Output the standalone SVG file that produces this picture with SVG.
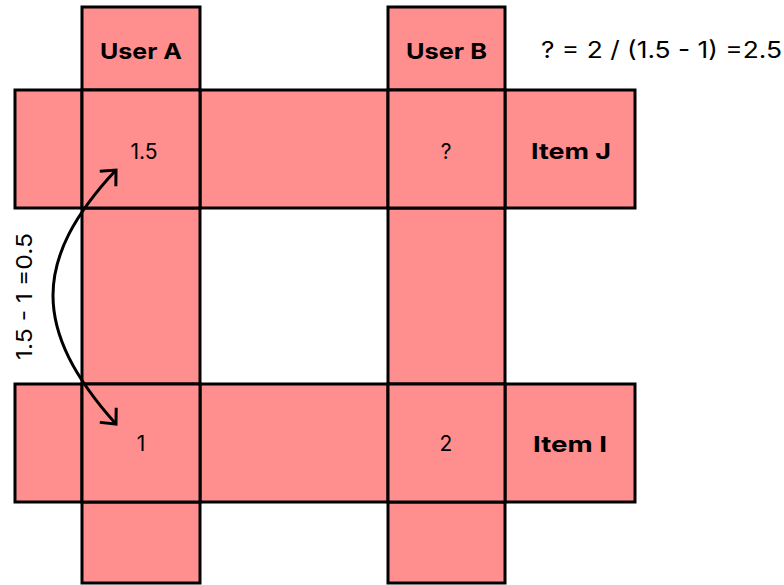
<svg xmlns="http://www.w3.org/2000/svg" width="784" height="585" viewBox="0 0 784 585">
<style>
.c{fill:#ff8f8f;stroke:#000;stroke-width:3}
.t{font-family:Inter,"Open Sans",sans-serif;font-size:21px;fill:#000;text-anchor:middle;dominant-baseline:central}
.b{font-weight:bold;font-size:22px}
.conn{fill:none;stroke:#000;stroke-width:3}
</style>
<defs>
<marker id="ah" markerUnits="userSpaceOnUse" markerWidth="30" markerHeight="30" refX="0" refY="0" viewBox="-15 -15 30 30" orient="auto-start-reverse" overflow="visible">
<path d="M -12 -11 L 0 0 L -12 11" fill="none" stroke="#000" stroke-width="3"/>
</marker>
</defs>
<rect width="784" height="585" fill="#fff"/>
<g id="rowJ">
<rect class="c" x="15" y="90" width="67" height="118"/>
<rect class="c" x="200" y="90" width="188" height="118"/>
</g>
<g id="rowI">
<rect class="c" x="15" y="384" width="67" height="118"/>
<rect class="c" x="200" y="384" width="188" height="118"/>
</g>
<g id="colA">
<rect class="c" x="82" y="208" width="118" height="176"/>
<rect class="c" x="82" y="502" width="118" height="81"/>
</g>
<g id="colB">
<rect class="c" x="388" y="208" width="117" height="176"/>
<rect class="c" x="388" y="502" width="117" height="81"/>
</g>
<g id="userA"><rect class="c" x="82" y="7" width="118" height="83"/><text class="t b" x="141" y="51" textLength="82" lengthAdjust="spacingAndGlyphs">User A</text></g>
<g id="userB"><rect class="c" x="388" y="7" width="117" height="83"/><text class="t b" x="446.5" y="51" textLength="81" lengthAdjust="spacingAndGlyphs">User B</text></g>
<g id="itemJ"><rect class="c" x="505" y="90" width="130" height="118"/><text class="t b" x="571" y="151" textLength="80" lengthAdjust="spacingAndGlyphs">Item J</text></g>
<g id="itemI"><rect class="c" x="505" y="384" width="130" height="118"/><text class="t b" x="570" y="444" textLength="74" lengthAdjust="spacingAndGlyphs">Item I</text></g>
<g id="aJ"><rect class="c" x="82" y="90" width="118" height="118"/><text class="t" x="144" y="151">1.5</text></g>
<g id="bJ"><rect class="c" x="388" y="90" width="117" height="118"/><text class="t" x="446" y="151">?</text></g>
<g id="aI"><rect class="c" x="82" y="384" width="118" height="118"/><text class="t" x="141" y="443">1</text></g>
<g id="bI"><rect class="c" x="388" y="384" width="117" height="118"/><text class="t" x="446" y="443">2</text></g>
<g id="connectors">
<path class="conn" d="M 116 170 C 32 260, 32 330, 116 424" marker-start="url(#ah)" marker-end="url(#ah)"/>
</g>
<text class="t" x="661.5" y="50" style="font-size:23px" textLength="241" lengthAdjust="spacingAndGlyphs">? = 2 / (1.5 - 1) =2.5</text>
<text class="t" x="24" y="296.5" style="font-size:22px" transform="rotate(-90 24 296.5)" textLength="127" lengthAdjust="spacingAndGlyphs">1.5 - 1 =0.5</text>
</svg>
